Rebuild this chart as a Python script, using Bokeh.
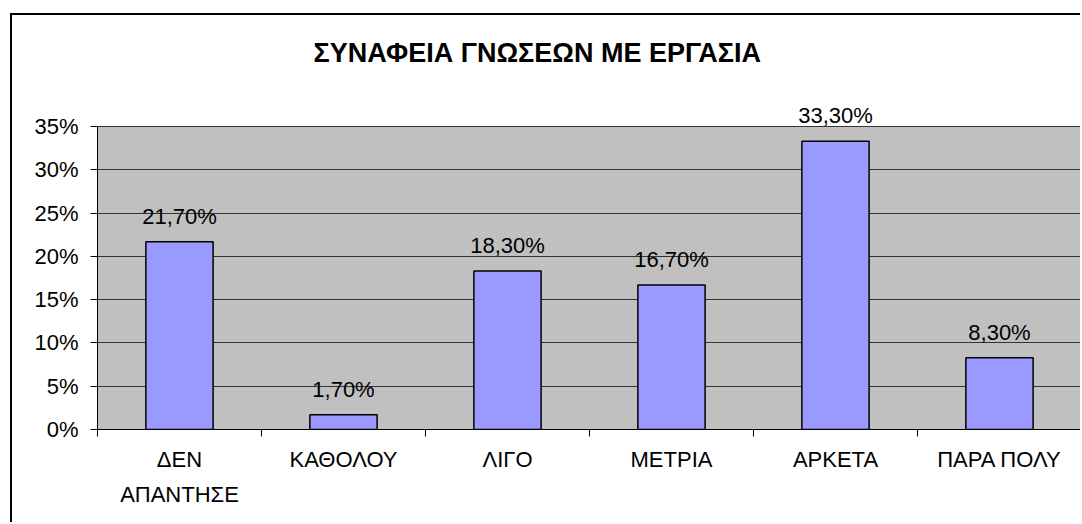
from bokeh.plotting import figure
from bokeh.models import FixedTicker, PrintfTickFormatter, ColumnDataSource, LabelSet
from bokeh.core.properties import value
from bokeh.embed import file_html
from bokeh.resources import INLINE

title_text = "ΣΥΝΑΦΕΙΑ ΓΝΩΣΕΩΝ ΜΕ ΕΡΓΑΣΙΑ"
categories = ["ΔΕΝ\nΑΠΑΝΤΗΣΕ", "ΚΑΘΟΛΟΥ", "ΛΙΓΟ", "ΜΕΤΡΙΑ", "ΑΡΚΕΤΑ", "ΠΑΡΑ ΠΟΛΥ"]
percentages = [21.7, 1.7, 18.3, 16.7, 33.3, 8.3]
y_ticks = [0, 5, 10, 15, 20, 25, 30, 35]

FONT = "Liberation Sans"
Y_MAX = 35
Y_VIEW = 40.66  # extra room above the plot area so the top value label is not clipped

xs = [i + 0.5 for i in range(len(categories))]
labels = [("%.2f%%" % v).replace(".", ",") for v in percentages]
src = ColumnDataSource(dict(x=xs, top=percentages, label=labels))

p = figure(width=1070, height=509, x_range=(0, len(categories)), y_range=(0, Y_VIEW),
           output_backend="svg", toolbar_location=None,
           min_border_left=85, min_border_right=1, min_border_top=62, min_border_bottom=95)
p.styles = {"border-top": "2px solid black", "border-left": "2px solid black"}
p.margin = (13, 0, 0, 10)

p.background_fill_color = "white"
p.border_fill_color = "white"
p.outline_line_color = None

# grey plot area 0..35
p.quad(left=[0], right=[len(categories)], bottom=[0], top=[Y_MAX],
       fill_color="#C0C0C0", line_color="#808080", line_width=1, level="image")

p.vbar(x="x", top="top", width=0.41, source=src, fill_color="#9999FF",
       line_color="black", line_width=1.5)
p.add_layout(LabelSet(x="x", y="top", text="label", source=src, y_offset=18,
                      text_align="center", text_baseline="alphabetic",
                      text_font=value(FONT), text_font_size=value("22px"),
                      text_color=value("black")))

# title
p.title.text = title_text
p.title.text_font = FONT
p.title.text_font_size = "27px"
p.title.text_font_style = "bold"
p.title.text_color = "black"
p.title.align = "left"
p.title.offset = 216
p.title.standoff = 20

# x axis
xa = p.xaxis[0]
xa.ticker = FixedTicker(ticks=xs, minor_ticks=list(range(len(categories) + 1)))
xa.major_label_overrides = {x: c for x, c in zip(xs, categories)}
xa.major_tick_out = 0
xa.major_tick_in = 0
xa.minor_tick_out = 7
xa.minor_tick_in = 0
xa.minor_tick_line_color = "black"
xa.axis_line_color = "black"
xa.major_label_standoff = 10
xa.major_label_text_font = FONT
xa.major_label_text_font_size = "22px"
xa.major_label_text_color = "black"
xa.major_label_text_line_height = 1.4

# y axis
ya = p.yaxis[0]
ya.ticker = FixedTicker(ticks=y_ticks)
ya.bounds = (0, Y_MAX)
ya.formatter = PrintfTickFormatter(format="%d%%")
ya.major_tick_out = 7
ya.major_tick_in = 0
ya.minor_tick_line_color = None
ya.major_tick_line_color = "black"
ya.axis_line_color = "black"
ya.major_label_standoff = 12
ya.major_label_text_font = FONT
ya.major_label_text_font_size = "22px"
ya.major_label_text_color = "black"

p.xgrid.grid_line_color = None
p.ygrid.ticker = FixedTicker(ticks=y_ticks)
p.ygrid.grid_line_color = "#333333"
p.ygrid.grid_line_width = 1

open("out.html", "w").write(file_html(p, INLINE))
